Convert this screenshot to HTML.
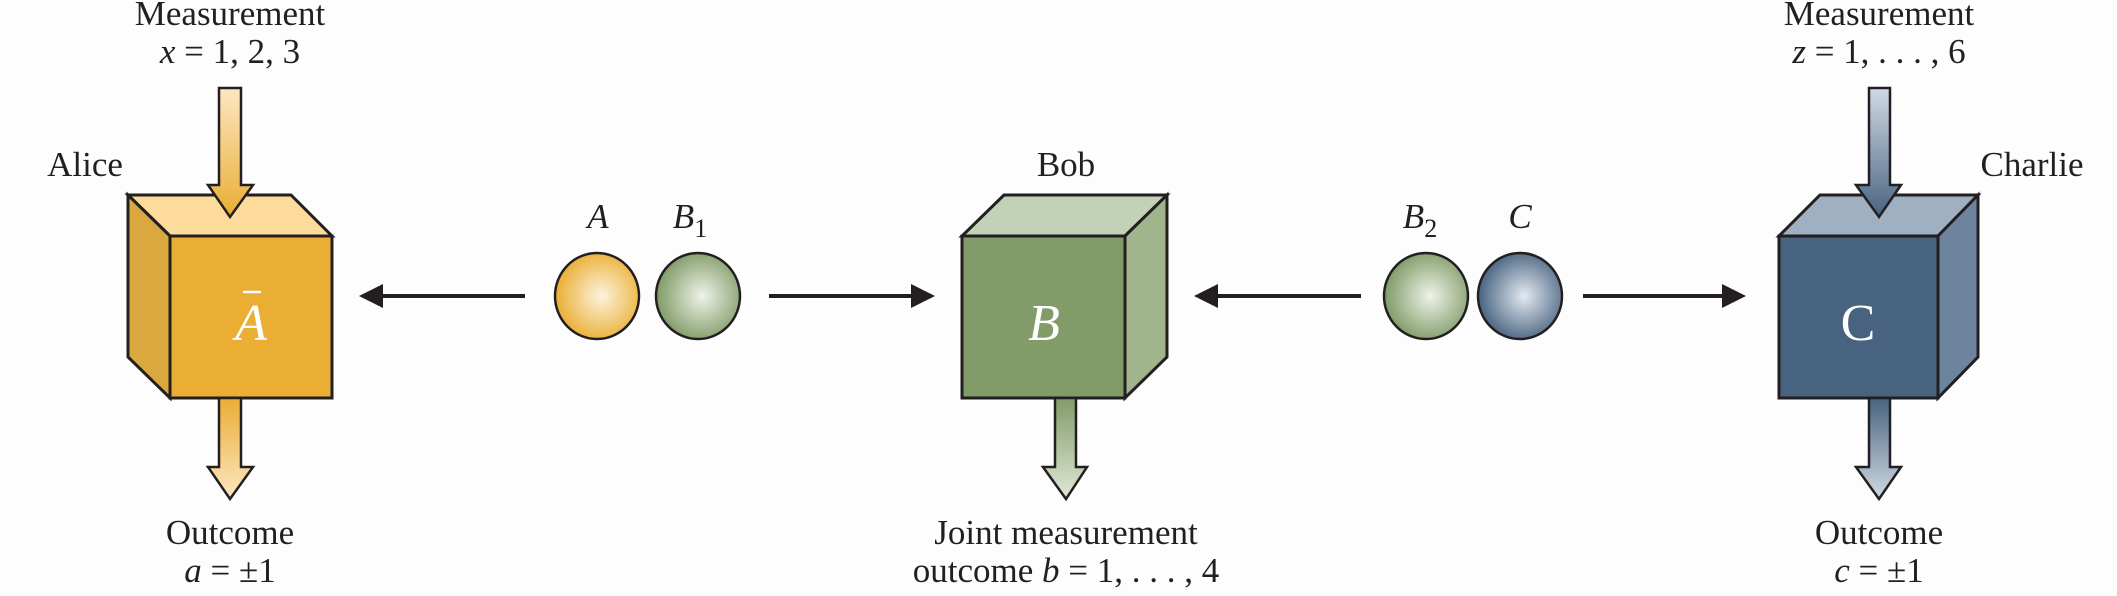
<!DOCTYPE html>
<html><head><meta charset="utf-8"><style>
html,body{margin:0;padding:0;background:#fdfdfd;}
svg{display:block;}
text{font-family:"Liberation Serif",serif;fill:#231f20;}
</style></head><body>
<svg width="2117" height="596" viewBox="0 0 2117 596" xmlns="http://www.w3.org/2000/svg">
<defs>
<linearGradient id="aIn" x1="0" y1="0" x2="0" y2="1"><stop offset="0" stop-color="#fde6c2"/><stop offset="1" stop-color="#e9ae33"/></linearGradient>
<linearGradient id="aOut" x1="0" y1="0" x2="0" y2="1"><stop offset="0" stop-color="#e9ae33"/><stop offset="1" stop-color="#fde6c2"/></linearGradient>
<linearGradient id="bOut" x1="0" y1="0" x2="0" y2="1"><stop offset="0" stop-color="#819b69"/><stop offset="1" stop-color="#dfe8d6"/></linearGradient>
<linearGradient id="cIn" x1="0" y1="0" x2="0" y2="1"><stop offset="0" stop-color="#d0dae5"/><stop offset="1" stop-color="#48637f"/></linearGradient>
<linearGradient id="cOut" x1="0" y1="0" x2="0" y2="1"><stop offset="0" stop-color="#48637f"/><stop offset="1" stop-color="#d0dae5"/></linearGradient>
<radialGradient id="sA" cx="0.55" cy="0.5" r="0.55"><stop offset="0" stop-color="#fdf3dc"/><stop offset="1" stop-color="#e9ae33"/></radialGradient>
<radialGradient id="sB" cx="0.55" cy="0.5" r="0.55"><stop offset="0" stop-color="#eef2e8"/><stop offset="1" stop-color="#7f9a66"/></radialGradient>
<radialGradient id="sC" cx="0.55" cy="0.5" r="0.55"><stop offset="0" stop-color="#e3e9f0"/><stop offset="1" stop-color="#48637f"/></radialGradient>
</defs>
<g stroke="#231f20" stroke-width="3" stroke-linejoin="miter">
<polygon points="128,195 291,195 332,236 170,236" fill="#fddb9a"/>
<polygon points="128,195 170,236 170,398 128,357" fill="#d9a93f"/>
<rect x="170" y="236" width="162" height="162" fill="#e9ae33"/>
<polygon points="219,88 241,88 241,185 253,185 230,217 208,185 219,185" fill="url(#aIn)" stroke-width="2.5"/>
<polygon points="219,398 241,398 241,467 253,467 230,499 208,467 219,467" fill="url(#aOut)" stroke-width="2.5"/>
<polygon points="1004,195 1167,195 1125,236 962,236" fill="#c3d1b6"/>
<polygon points="1125,236 1167,195 1167,357 1125,398" fill="#a0b58c"/>
<rect x="962" y="236" width="163" height="162" fill="#819b69"/>
<polygon points="1055,398 1076,398 1076,467 1087,467 1066,499 1043,467 1055,467" fill="url(#bOut)" stroke-width="2.5"/>
<polygon points="1820,195 1978,195 1938,236 1779,236" fill="#a0b0c3"/>
<polygon points="1938,236 1978,195 1978,357 1938,398" fill="#6e849e"/>
<rect x="1779" y="236" width="159" height="162" fill="#48637f"/>
<polygon points="1869,88 1890,88 1890,185 1901,185 1879,217 1856,185 1869,185" fill="url(#cIn)" stroke-width="2.5"/>
<polygon points="1869,398 1890,398 1890,467 1901,467 1879,499 1856,467 1869,467" fill="url(#cOut)" stroke-width="2.5"/>
<ellipse cx="597" cy="296" rx="42" ry="43" fill="url(#sA)" stroke-width="2.5"/>
<ellipse cx="698" cy="296" rx="42" ry="43" fill="url(#sB)" stroke-width="2.5"/>
<ellipse cx="1426" cy="296" rx="42" ry="43" fill="url(#sB)" stroke-width="2.5"/>
<ellipse cx="1520" cy="296" rx="42" ry="43" fill="url(#sC)" stroke-width="2.5"/>
</g>
<g stroke="#231f20" stroke-width="4" fill="#231f20">
<line x1="525" y1="296" x2="380" y2="296"/><polygon points="359,296 383,284 383,308" stroke="none"/>
<line x1="769" y1="296" x2="914" y2="296"/><polygon points="935,296 911,284 911,308" stroke="none"/>
<line x1="1361" y1="296" x2="1215" y2="296"/><polygon points="1194,296 1218,284 1218,308" stroke="none"/>
<line x1="1583" y1="296" x2="1725" y2="296"/><polygon points="1746,296 1722,284 1722,308" stroke="none"/>
</g>
<g font-size="35" text-anchor="middle">
<text x="230" y="25">Measurement</text>
<text x="230" y="63"><tspan font-style="italic">x</tspan> = 1, 2, 3</text>
<text x="85" y="176">Alice</text>
<text x="230" y="544">Outcome</text>
<text x="230" y="582"><tspan font-style="italic">a</tspan> = ±1</text>
<text x="1066" y="176">Bob</text>
<text x="1066" y="544">Joint measurement</text>
<text x="1066" y="582">outcome <tspan font-style="italic">b</tspan> = 1, . . . , 4</text>
<text x="1879" y="25">Measurement</text>
<text x="1879" y="63"><tspan font-style="italic">z</tspan> = 1, . . . , 6</text>
<text x="2032" y="176">Charlie</text>
<text x="1879" y="544">Outcome</text>
<text x="1879" y="582"><tspan font-style="italic">c</tspan> = ±1</text>
<text x="598" y="228" font-style="italic">A</text>
<text x="690" y="228" font-style="italic">B<tspan font-style="normal" font-size="26" dy="9">1</tspan></text>
<text x="1420" y="228" font-style="italic">B<tspan font-style="normal" font-size="26" dy="9">2</tspan></text>
<text x="1520" y="228" font-style="italic">C</text>
</g>
<g font-size="52" font-style="italic" text-anchor="middle">
<text x="251" y="340" style="fill:#fff">A</text>
<line x1="243" y1="292" x2="261" y2="292" stroke="#fff" stroke-width="2.5"/>
<text x="1044" y="340" style="fill:#fff">B</text>
<text x="1858" y="340" style="fill:#fff;font-style:normal">C</text>
</g>
</svg>
</body></html>
